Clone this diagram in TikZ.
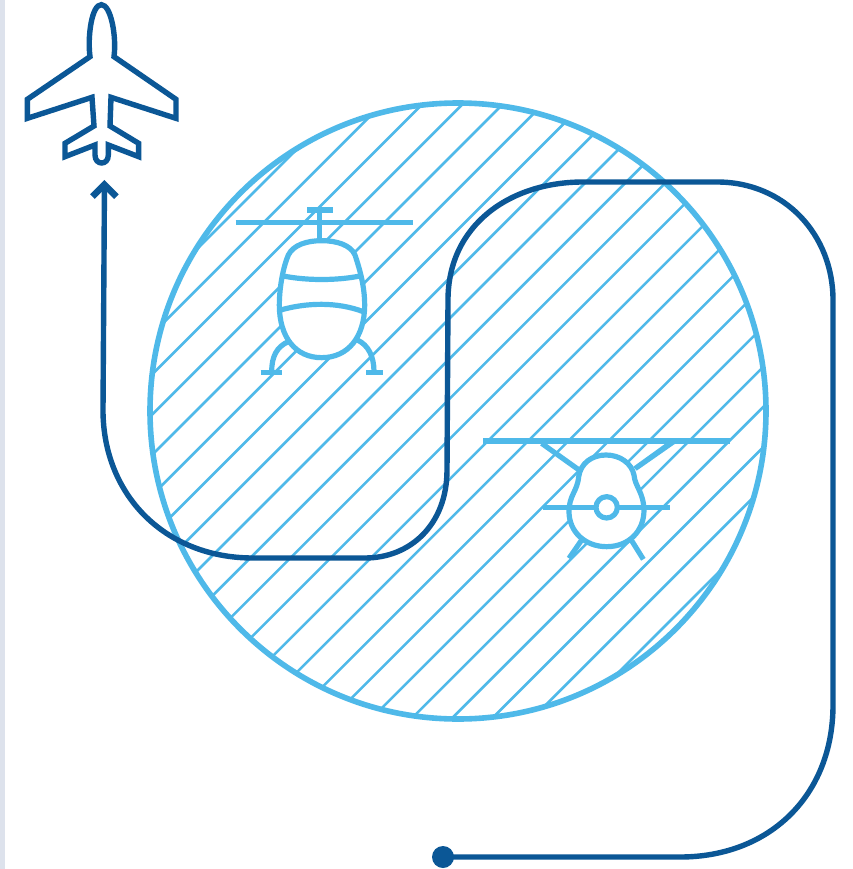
\documentclass[tikz,border=0pt]{standalone}
\usetikzlibrary{arrows.meta}
\definecolor{lightb}{HTML}{4FB9E9}
\definecolor{darkb}{HTML}{0B5796}
\definecolor{sidebar}{HTML}{DDE2EC}
\tikzset{
  hatchline/.style={draw=lightb,line width=2.6pt},
  ringline/.style={draw=lightb,line width=5.6pt},
  icon/.style={draw=lightb,line width=5.2pt,line join=round},
  iconbody/.style={icon,fill=white},
  routeline/.style={draw=darkb,line width=5.4pt},
  planeline/.style={draw=darkb,line width=5.4pt,line join=miter},
  zoomone/.style={x=0.33333pt,y=-0.33333pt}
}
\begin{document}
\begin{tikzpicture}[x=1pt,y=-1pt]
\useasboundingbox (0,0) rectangle (852,869);
\fill[white] (0,0) rectangle (852,869);
\fill[sidebar] (0,0) rectangle (5,869);
% hatched disc
\begin{scope}
  \clip (458,411) circle [radius=308pt];
  \foreach \k in {0,...,21}{
    \pgfmathsetmacro{\s}{446+\k*40.24}
    \draw[hatchline] (\s-800,800) -- (\s,0);
  }
\end{scope}
\draw[ringline] (458,411) circle [radius=308pt];
% helicopter, front view
\begin{scope}[shift={(220,190)},zoomone]
  \draw[icon] (47,97) -- (578,97);
  \draw[icon] (262,60) -- (338,60);
  \draw[icon] (298,60) -- (298,152);
  \draw[icon] (205,455) .. controls (170,470) and (155,500) .. (155,545);
  \draw[icon] (412,450) .. controls (445,465) and (462,500) .. (462,545);
  \draw[icon] (122,548) -- (187,548);
  \draw[icon] (438,548) -- (490,548);
  \draw[iconbody] (305,152) .. controls (350,152) and (392,165) .. (405,195)
     .. controls (420,240) and (434,290) .. (434,345)
     .. controls (434,440) and (385,503) .. (305,503)
     .. controls (225,503) and (178,440) .. (178,345)
     .. controls (178,290) and (190,230) .. (205,195)
     .. controls (220,165) and (260,152) .. (305,152) -- cycle;
  \draw[icon] (190,258) .. controls (260,272) and (350,272) .. (420,258);
  \draw[icon] (182,360) .. controls (260,338) and (350,335) .. (430,365);
\end{scope}
% helicopter, rear view
\begin{scope}[shift={(470,420)},zoomone]
  \draw[icon] (40,63) -- (780,63);
  \draw[icon] (215,70) -- (330,152);
  \fill[lightb] (590,68) -- (620,68) -- (500,152) -- (490,140) -- cycle;
  \draw[icon] (335,360) -- (297,415);
  \draw[icon] (485,362) -- (520,418);
  \draw[iconbody] (408,105) .. controls (450,105) and (485,130) .. (492,165)
     .. controls (495,200) and (520,215) .. (522,270)
     .. controls (522,335) and (475,380) .. (410,380)
     .. controls (345,380) and (297,335) .. (297,275)
     .. controls (297,225) and (322,215) .. (326,170)
     .. controls (332,130) and (365,105) .. (408,105) -- cycle;
  \draw[icon] (218,262) -- (378,262);
  \draw[icon] (442,262) -- (600,262);
  \draw[icon] (410,262) circle [radius=32pt*0.33333];
\end{scope}
% aeroplane
\begin{scope}[zoomone]
  \draw[planeline] (270,170) .. controls (262,110) and (275,14) .. (304,14)
    .. controls (333,14) and (350,110) .. (342,170)
    -- (528,298) -- (528,355) -- (333,292) -- (330,378) -- (416,430) -- (416,470)
    -- (325,435) -- (325,465) .. controls (325,497) and (285,497) .. (285,465)
    -- (285,435) -- (195,470) -- (195,430) -- (282,378) -- (276,292)
    -- (82,355) -- (82,298) -- cycle;
\end{scope}
% route
\node[circle,fill=darkb,draw=none,inner sep=0pt,minimum size=22pt] (start) at (443,857) {};
\coordinate (tip) at (104.5,180);
\draw[routeline,-{Straight Barb[length=12pt,width=24pt,line width=6.5pt]}]
  (start.center) -- (680,857)
  .. controls (770,857) and (833,795) .. (833,705)
  -- (833,300)
  .. controls (833,235) and (785,182) .. (717,182)
  -- (583,182)
  .. controls (510,182) and (448,225) .. (448,300)
  -- (447,470)
  .. controls (447,525) and (410,558) .. (365,558)
  -- (253,558)
  .. controls (165,558) and (103,495) .. (103,410)
  -- (tip);
\end{tikzpicture}
\end{document}
